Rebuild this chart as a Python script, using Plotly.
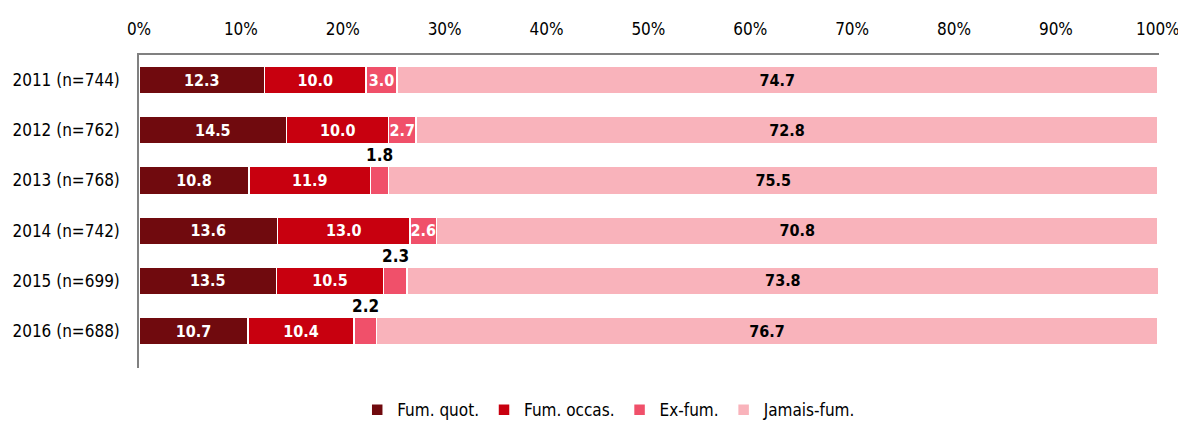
import plotly.graph_objects as go

categories = ["2011 (n=744)", "2012 (n=762)", "2013 (n=768)", "2014 (n=742)", "2015 (n=699)", "2016 (n=688)"]
fum_quot = [12.3, 14.5, 10.8, 13.6, 13.5, 10.7]
fum_occas = [10.0, 10.0, 11.9, 13.0, 10.5, 10.4]
ex_fum = [3.0, 2.7, 1.8, 2.6, 2.3, 2.2]
jamais_fum = [74.7, 72.8, 75.5, 70.8, 73.8, 76.7]
series_names = ["Fum. quot.", "Fum. occas.", "Ex-fum.", "Jamais-fum."]
colors = ["#700A0E", "#C8000F", "#F0506A", "#F9B3BB"]
x_ticks = [0, 10, 20, 30, 40, 50, 60, 70, 80, 90, 100]
x_tick_labels = [f"{t}%" for t in x_ticks]
# which Ex-fum labels are drawn above the bar (too narrow)
ex_outside = [False, False, True, False, True, True]

FONT = "DejaVu Sans Condensed, Liberation Sans Narrow, Arial Narrow, Liberation Sans, sans-serif"

fig = go.Figure()
series = [fum_quot, fum_occas, ex_fum, jamais_fum]
for i, (name, vals, col) in enumerate(zip(series_names, series, colors)):
    if name == "Ex-fum.":
        texts = ["" if o else f"{v:.1f}" for v, o in zip(vals, ex_outside)]
    else:
        texts = [f"{v:.1f}" for v in vals]
    fig.add_trace(go.Bar(
        y=categories, x=vals, name=name, orientation="h",
        marker=dict(color=col, line=dict(color="white", width=1.5)),
        text=texts, textposition="inside", insidetextanchor="middle",
        textangle=0, constraintext="none",
        textfont=dict(family=FONT, size=16, color="black" if i == 3 else "white", weight="bold"),
        cliponaxis=False,
        hoverinfo="skip",
    ))

# labels above narrow Ex-fum segments
for cat, q, o, e, out in zip(categories, fum_quot, fum_occas, ex_fum, ex_outside):
    if out:
        fig.add_annotation(
            x=q + o + e / 2, y=cat, text=f"<b>{e:.1f}</b>", showarrow=False,
            yshift=25, font=dict(family=FONT, size=17, color="black"),
        )

fig.update_layout(
    barmode="stack",
    bargap=0.45,
    width=1178, height=413,
    margin=dict(l=131, r=27, t=47, b=53, autoexpand=False),
    paper_bgcolor="white", plot_bgcolor="white",
    font=dict(family=FONT, size=16, color="black"),
    legend=dict(
        orientation="h", x=0.461, xanchor="center", y=-0.135, yanchor="middle",
        font=dict(family=FONT, size=17, color="black"),
        traceorder="normal", itemwidth=30,
    ),
    xaxis=dict(
        side="top", range=[0, 100.12], tickvals=x_ticks, ticktext=x_tick_labels,
        showgrid=False, zeroline=False, automargin=False,
        showline=True, linecolor="#808080", linewidth=1.5,
        ticks="", ticklabelstandoff=11,
        tickfont=dict(family=FONT, size=17),
    ),
    yaxis=dict(
        autorange="reversed", showgrid=False, zeroline=False, automargin=False,
        showline=True, linecolor="#808080", linewidth=1.5,
        ticks="", ticklabelstandoff=14,
        tickfont=dict(family=FONT, size=17),
    ),
)

fig.write_html("out.html")
